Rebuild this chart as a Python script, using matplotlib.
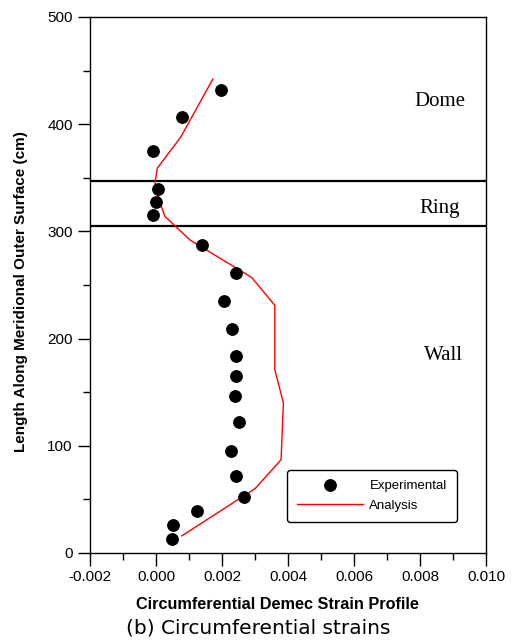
import matplotlib
matplotlib.use("Agg")
import matplotlib.pyplot as plt
from matplotlib.ticker import MultipleLocator, FixedLocator

# Data
exp_strain = [0.00198, 0.00080, -0.00008, 0.00005, 0.00000, -0.00008, 0.00138,
              0.00241, 0.00206, 0.00229, 0.00243, 0.00243, 0.00239, 0.00250,
              0.00228, 0.00241, 0.00266, 0.00123, 0.00052, 0.00049]
exp_length = [432, 407, 375, 340, 327, 315, 287, 261, 235, 209, 184, 165, 146,
              122, 95, 72, 52, 39, 26, 13]

ana_strain = [0.00172, 0.00075, 0.00004, -0.00003, 0.00014, 0.00027, 0.00103,
              0.00290, 0.00360, 0.00360, 0.00386, 0.00379, 0.00300, 0.00078]
ana_length = [442, 388, 359, 345, 325, 314, 292, 257, 231, 171, 140, 87, 60, 16]

boundaries = [347, 305]
regions = ["Dome", "Ring", "Wall"]
region_y = [421, 321, 184]
xticks = [-0.002, 0.000, 0.002, 0.004, 0.006, 0.008, 0.010]
yticks = [0, 100, 200, 300, 400, 500]

fig = plt.figure(figsize=(5.12, 6.44), dpi=100)
ax = fig.add_axes([90/512, 1-553/644, (486-90)/512, (553-17)/644])

ax.plot(ana_strain, ana_length, color="red", lw=1.0, label="Analysis", zorder=2)
ax.plot(exp_strain, exp_length, "o", color="black", ms=8.2, label="Experimental",
        linestyle="none", zorder=3)

for b in boundaries:
    ax.axhline(b, color="black", lw=1.6, zorder=1)

region_x = [0.0086, 0.0086, 0.0087]
for name, rx, ry in zip(regions, region_x, region_y):
    ax.text(rx, ry, name, family="Liberation Serif", fontsize=15,
            ha="center", va="center")

ax.set_xlim(-0.002, 0.010)
ax.set_ylim(0, 500)
ax.xaxis.set_major_locator(FixedLocator(xticks))
ax.set_xticklabels(["%.3f" % v for v in xticks])
ax.xaxis.set_minor_locator(MultipleLocator(0.001))
ax.yaxis.set_major_locator(FixedLocator(yticks))
ax.yaxis.set_minor_locator(MultipleLocator(50))

ax.tick_params(axis="both", which="major", direction="out", length=9, width=1,
               labelsize=11, colors="black")
ax.tick_params(axis="both", which="minor", direction="out", length=5, width=1)
for lab in ax.get_xticklabels() + ax.get_yticklabels():
    lab.set_family("Liberation Sans")
for s in ax.spines.values():
    s.set_linewidth(1.0)

ax.set_xlabel("Circumferential Demec Strain Profile", family="Liberation Sans",
              fontweight="bold", fontsize=11.7)
ax.xaxis.set_label_coords((277-90)/396, -(597-553)/536)
ax.set_ylabel("Length Along Meridional Outer Surface (cm)", family="Liberation Sans",
              fontweight="bold", fontsize=11)
ax.yaxis.set_label_coords(-(90-28)/396, (553-292)/536)

handles, labels = ax.get_legend_handles_labels()
leg = ax.legend(handles[::-1], labels[::-1], loc="upper left",
                bbox_to_anchor=((287-90)/396, (553-470)/536),
                prop={"family": "Liberation Sans", "size": 9.5},
                frameon=True, fancybox=True, edgecolor="black",
                handlelength=5.0, borderpad=0.75, labelspacing=0.55,
                handletextpad=0.5, borderaxespad=0)
leg.get_frame().set_linewidth(1.0)
leg.get_frame().set_alpha(1)

fig.text(258/512, 1-628/644, "(b) Circumferential strains",
         family=["DejaVu Sans"], fontsize=14.5,
         ha="center", va="center")

fig.savefig("out.png", dpi=100)
